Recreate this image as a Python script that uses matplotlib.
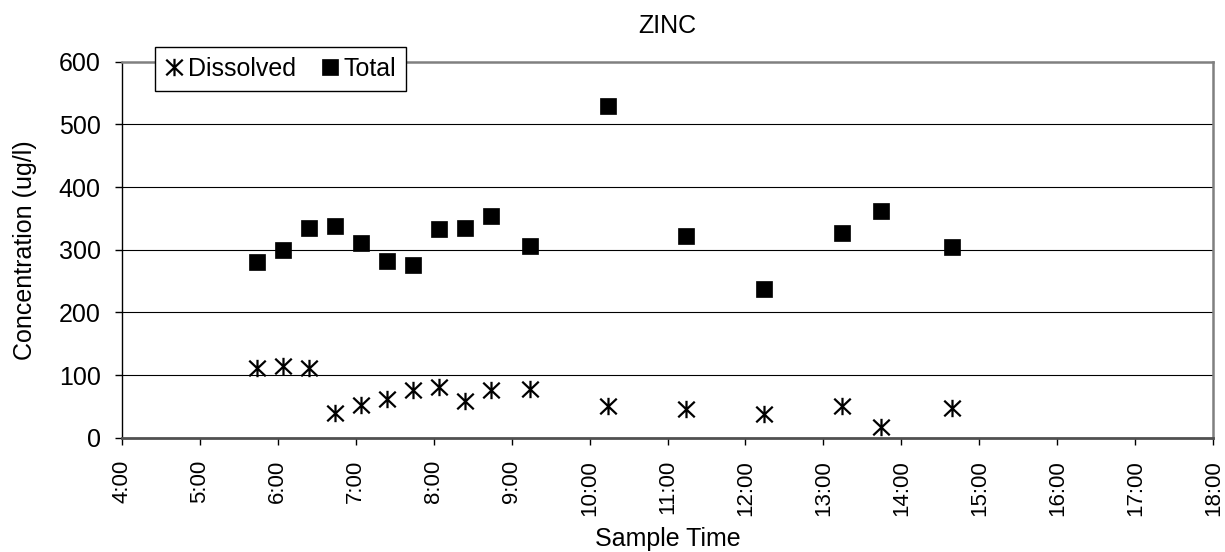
import numpy as np
import matplotlib
matplotlib.use("Agg")
import matplotlib.pyplot as plt
from matplotlib.path import Path

plt.rcParams['font.family'] = ['Liberation Sans', 'DejaVu Sans']

# sample times and zinc concentrations (ug/l)
sample_times = ["5:44", "6:04", "6:24", "6:44", "7:04", "7:24", "7:44", "8:04", "8:24",
                "8:44", "9:14", "10:14", "11:14", "12:14", "13:14", "13:44", "14:39"]
dissolved = [111, 114, 111, 40, 53, 62, 76, 81, 59, 76, 78, 50, 46, 38, 51, 17, 48]
total = [281, 300, 334, 338, 311, 282, 275, 333, 334, 354, 306, 529, 322, 237, 326, 362, 305]
x_ticks = list(range(4, 19))
x_labels = ["%d:00" % h for h in x_ticks]


def to_hours(s):
    h, m = s.split(":")
    return int(h) + int(m) / 60.0


hours = [to_hours(t) for t in sample_times]

# excel style asterisk marker: X with a vertical bar
star = Path([(0, -1), (0, 1), (-0.95, -0.9), (0.95, 0.9), (-0.95, 0.9), (0.95, -0.9)],
            [Path.MOVETO, Path.LINETO, Path.MOVETO, Path.LINETO, Path.MOVETO, Path.LINETO])

fs = 18

fig = plt.figure(figsize=(12.25, 5.52), dpi=100)
ax = fig.add_axes([0.0993, 0.207, 0.8912, 0.681])

ax.plot(hours, dissolved, linestyle='none', marker=star, markersize=12.5,
        markeredgewidth=1.6, color='black', label='Dissolved')
ax.plot(hours, total, linestyle='none', marker='s', markersize=11.5,
        markeredgewidth=0.5, color='black', label='Total')

ax.set_xlim(4, 18)
ax.set_ylim(0, 600)
ax.set_xticks(x_ticks)
ax.set_xticklabels(x_labels, rotation=90, fontsize=16)
ax.set_yticks(np.arange(0, 601, 100))
ax.tick_params(axis='y', labelsize=fs, direction='out', length=5, width=1, pad=10)
ax.tick_params(axis='x', direction='out', length=5, width=1, pad=11)

for v in range(100, 600, 100):
    ax.axhline(v, color='black', linewidth=0.8, zorder=0)

ax.spines['top'].set_color('#808080')
ax.spines['right'].set_color('#808080')
ax.spines['top'].set_linewidth(1.8)
ax.spines['right'].set_linewidth(1.8)
ax.spines['left'].set_color('black')
ax.spines['left'].set_linewidth(1.0)
ax.spines['bottom'].set_color('#505050')
ax.spines['bottom'].set_linewidth(2.0)

ax.set_title('ZINC', fontsize=fs, pad=21)
ax.set_xlabel('Sample Time', fontsize=fs, labelpad=8)
ax.set_ylabel('Concentration (ug/l)', fontsize=fs, labelpad=16)

leg = ax.legend(loc='upper left', bbox_to_anchor=(0.031, 1.039), ncol=2,
                fontsize=fs, frameon=True, fancybox=False, framealpha=1,
                edgecolor='black', borderaxespad=0, handlelength=0.7,
                handletextpad=0.2, columnspacing=1.0, borderpad=0.4)
leg.get_frame().set_linewidth(1.0)

fig.savefig('out.png', dpi=100)
